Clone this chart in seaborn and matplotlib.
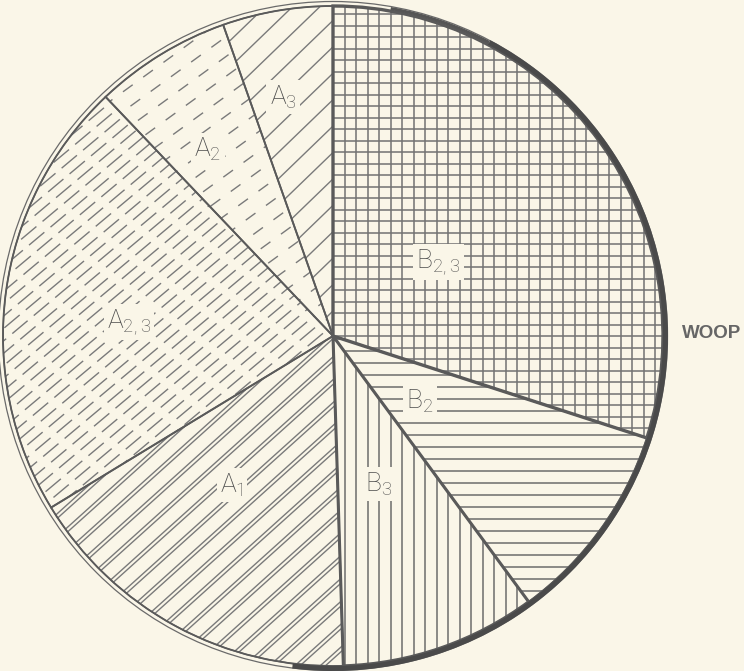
import numpy as np
import matplotlib
matplotlib.use("Agg")
import matplotlib.pyplot as plt
import seaborn as sns
from matplotlib.collections import LineCollection
from matplotlib.patches import Circle, Arc

sns.set_theme(style="white")
plt.rcParams['font.family'] = ['Roboto', 'DejaVu Sans']
plt.rcParams['lines.scale_dashes'] = False

# slices, clockwise from the top
labels = [r"$\mathregular{B_{2,3}}$", r"$\mathregular{B_2}$", r"$\mathregular{B_3}$",
          r"$\mathregular{A_1}$", r"$\mathregular{A_{2,3}}$", r"$\mathregular{A_2}$",
          r"$\mathregular{A_3}$"]
shares = [30.0, 9.9, 9.6, 16.8, 21.6, 6.7, 5.4]
side_text = "WOOP"

# label placement (fraction of radius, angle in degrees)
label_r = [0.39, 0.33, 0.47, 0.545, 0.62, 0.68, 0.74]
label_t = [34.9, -37.2, -72.8, -124.1, 176.0, 123.9, 101.8]

paper = "#faf6e8"
ink = "#5a5a5a"
R_PX = 330.0
PX = 1 / R_PX  # one pixel in data units

fig = plt.figure(figsize=(7.44, 6.71), dpi=100, facecolor=paper)
ax = fig.add_axes([0, 0, 1, 1])
ax.set_facecolor(paper)

wedges, _ = ax.pie(shares, startangle=90, counterclock=False, radius=1,
                   wedgeprops=dict(fill=False, edgecolor=ink, linewidth=1.3, zorder=3))
wedges[0].set_linewidth(2.4)
wedges[2].set_linewidth(2.2)


def hatch(wedge, angle, gap, dash=None, pair=None, color="#7a7a7a", lw=1.0):
    a = np.deg2rad(angle)
    d = np.array([np.cos(a), np.sin(a)])
    n = np.array([-np.sin(a), np.cos(a)])
    offs = [0.0] if pair is None else [0.0, pair]
    segs, styles = [], []
    for i, k in enumerate(np.arange(-1.5, 1.5, gap * PX)):
        for o in offs:
            c = (k + o * PX) * n
            segs.append([c - 1.6 * d, c + 1.6 * d])
            if dash is None:
                styles.append('solid')
            else:
                per = (dash[0] + dash[1]) * 0.72
                styles.append(((i * 0.37 % 1) * per, (dash[0] * 0.72, dash[1] * 0.72)))
    lc = LineCollection(segs, colors=color, linewidths=lw, linestyles=styles, zorder=2)
    ax.add_collection(lc)
    lc.set_clip_path(wedge)


# B2,3 grid
hatch(wedges[0], 0, 11.5, color="#727272", lw=1.1)
hatch(wedges[0], 90, 11.5, color="#727272", lw=1.1)
# B2 horizontal
hatch(wedges[1], 0, 12, color="#6c6c6c", lw=1.1)
# B3 vertical
hatch(wedges[2], 90, 11.5, color="#6c6c6c", lw=1.1)
# A1 double diagonals
hatch(wedges[3], 42, 17, pair=3.5, lw=1.0)
# A2,3 dashed diagonals
hatch(wedges[4], 40, 9.5, dash=(20, 8), lw=1.0)
# A2 sparse dashed diagonals
hatch(wedges[5], 36, 16, dash=(12, 13), lw=1.0)
# A3 diagonals
hatch(wedges[6], 44, 19, lw=1.0)

# outer rim: double thin line, heavier on the right
ax.add_patch(Circle((0, 0), 1.0, fill=False, ec=ink, lw=1.0, zorder=4))
ax.add_patch(Circle((0, 0), 1.0 + 4.5 * PX, fill=False, ec="#6a6a6a", lw=0.9, zorder=4))
rim = 2 * (1.0 + 2.5 * PX)
ax.add_patch(Arc((0, 0), rim, rim, theta1=-97, theta2=62, ec="#4a4a4a", lw=3.6, zorder=4))
ax.add_patch(Arc((0, 0), rim, rim, theta1=62, theta2=80, ec="#555555", lw=2.2, zorder=4))

for lab, r, t in zip(labels, label_r, label_t):
    tr = np.deg2rad(t)
    ax.text(r * np.cos(tr), r * np.sin(tr), lab, ha='center', va='center',
            fontsize=19, fontweight='light', color="#4c4c4c", zorder=5,
            bbox=dict(boxstyle='square,pad=0.12', fc=paper, ec='none'))

ax.text((682 - 333) * PX, 3 * PX, side_text, ha='left', va='center', fontsize=13.5,
        fontweight='bold', family='Liberation Sans', color="#666666")

ax.set_xlim(-333 * PX, 411 * PX)
ax.set_ylim(-335 * PX, 336 * PX)
ax.set_aspect('auto')
ax.axis('off')

fig.savefig("out.png", dpi=100, facecolor=paper)
